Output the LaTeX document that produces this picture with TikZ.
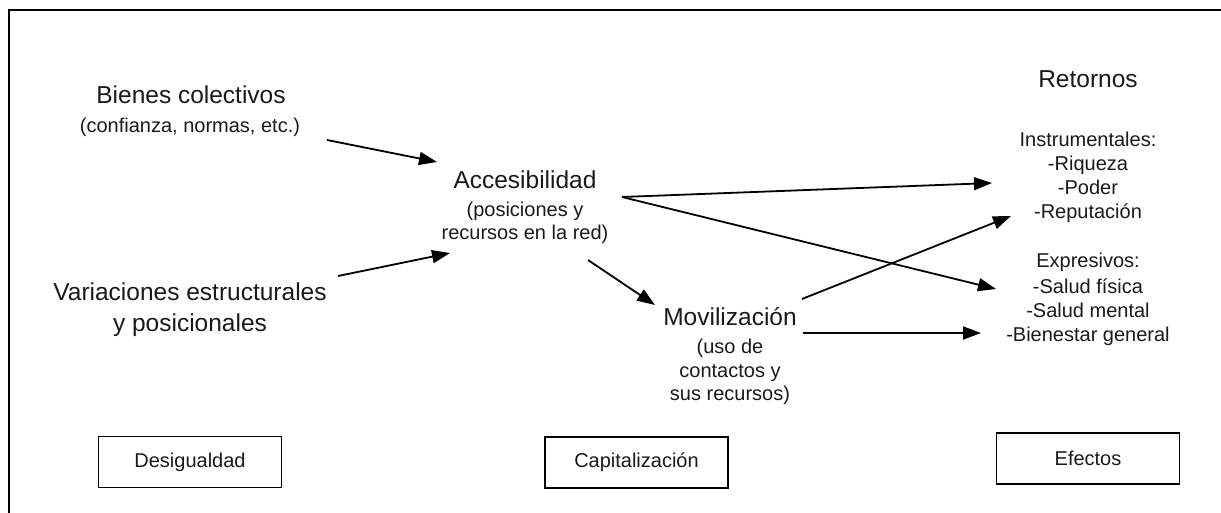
\documentclass[tikz,border=0pt]{standalone}
\usepackage{fontspec}
\setmainfont{Liberation Sans}
\usetikzlibrary{arrows.meta}
\begin{document}
\begin{tikzpicture}[x=1pt,y=-1pt,
  big/.style={font=\fontsize{24.5}{29}\selectfont, anchor=base, inner sep=0pt, text=black!90},
  small/.style={font=\fontsize{20}{24}\selectfont, anchor=base, inner sep=0pt, text=black!90},
  labelbox/.style={draw, line width=1.6pt, minimum width=183pt, minimum height=51pt, inner sep=0pt, font=\fontsize{20}{24}\selectfont, text=black!90},
  arr/.style={line width=1.8pt, -{Triangle[length=18pt,width=13pt]}}]
\useasboundingbox (0,0) rectangle (1221,513);
\draw[line width=1.5pt] (9,513) -- (9,10) -- (1221,10);

% left column
\node[big]   (bienes)  at (191,104) {Bienes colectivos};
\node[small] (bienes2) at (190,133) {(confianza, normas, etc.)};
\node[big]   (var)     at (190,300) {Variaciones estructurales};
\node[big]   (var2)    at (190,331) {y posicionales};

% middle
\node[big]   (acc)   at (525,189) {Accesibilidad};
\node[small] (acc2)  at (525,217) {(posiciones y};
\node[small] (acc3)  at (525,240) {recursos en la red)};
\node[big]   (mov)   at (730,325) {Movilización};
\node[small] (mov2)  at (730,353) {(uso de};
\node[small] (mov3)  at (730,377) {contactos y};
\node[small] (mov4)  at (730,400) {sus recursos)};

% right
\node[big]   (ret)  at (1088,88)  {Retornos};
\node[small] (ins)  at (1088,147) {Instrumentales:};
\node[small] (riq)  at (1088,171) {-Riqueza};
\node[small] (pod)  at (1088,195) {-Poder};
\node[small] (rep)  at (1088,219) {-Reputación};
\node[small] (exp)  at (1088,268) {Expresivos:};
\node[small] (sf)   at (1088,293) {-Salud física};
\node[small] (sm)   at (1088,317) {-Salud mental};
\node[small] (bg)   at (1088,341) {-Bienestar general};

% boxes
\node[labelbox] (des) at (190,462)   {Desigualdad};
\node[labelbox] (cap) at (636.5,462.5) {Capitalización};
\node[labelbox] (efe) at (1088,458.5) {Efectos};

% connector ends
\coordinate (b-out)  at (327,140);
\coordinate (a-in1)  at (437,162);
\coordinate (v-out)  at (338,276);
\coordinate (a-in2)  at (450,253);
\coordinate (a-out1) at (588,260);
\coordinate (m-in)   at (655,305);
\coordinate (a-out2) at (622,197);
\coordinate (i-in)   at (992,183);
\coordinate (e-in)   at (996,289);
\coordinate (m-out1) at (802,299);
\coordinate (r-in)   at (1011,216);
\coordinate (m-out2) at (803,333);
\coordinate (g-in)   at (981,333);

\draw[arr] (b-out) -- (a-in1);
\draw[arr] (v-out) -- (a-in2);
\draw[arr] (a-out1) -- (m-in);
\draw[arr] (a-out2) -- (i-in);
\draw[arr] (a-out2) -- (e-in);
\draw[arr] (m-out1) -- (r-in);
\draw[arr] (m-out2) -- (g-in);
\end{tikzpicture}
\end{document}
